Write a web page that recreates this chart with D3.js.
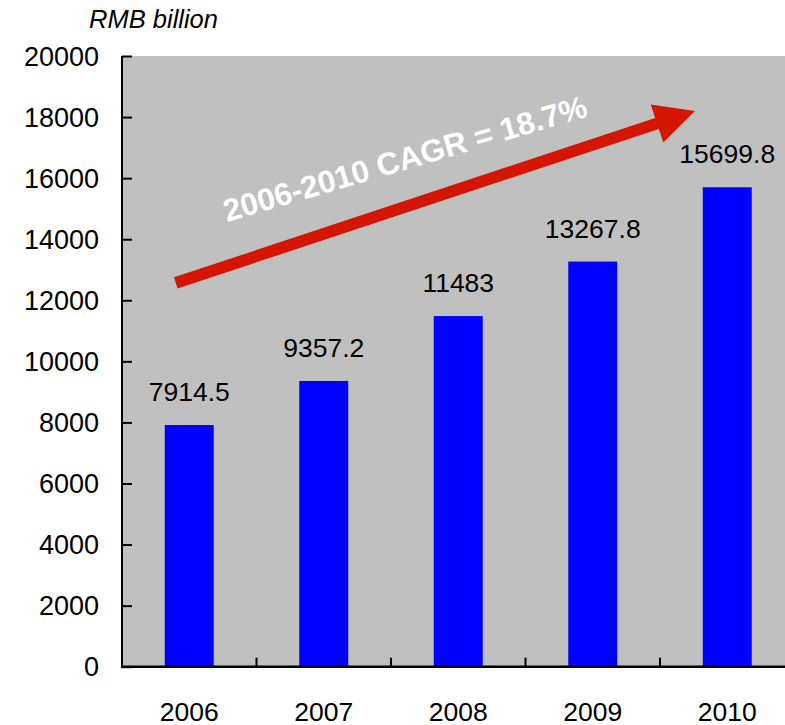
<!DOCTYPE html>
<html>
<head>
<meta charset="utf-8">
<script src="https://cdn.jsdelivr.net/npm/d3@7"></script>
<style>
  html, body { margin: 0; padding: 0; background: #ffffff; overflow: hidden; }
  svg { display: block; }
  text { font-family: "Liberation Sans", Arial, sans-serif; }
</style>
</head>
<body>
<svg id="chart" width="785" height="725"></svg>
<script>
// Annual values, RMB billion
const years = ["2006", "2007", "2008", "2009", "2010"];
const values = [7914.5, 9357.2, 11483, 13267.8, 15699.8];
const valueLabels = ["7914.5", "9357.2", "11483", "13267.8", "15699.8"];
const yTicks = [0, 2000, 4000, 6000, 8000, 10000, 12000, 14000, 16000, 18000, 20000];
const unitLabel = "RMB billion";
const growthLabel = "2006-2010 CAGR = 18.7%";
// Trend arrow end points: [category, fraction across its band, value]
const arrowFrom = ["2006", 0.40, 12570];
const arrowTo = ["2010", 0.26, 18200];

const svg = d3.select("#chart");
const plotLeft = 122, plotTop = 56, plotBottom = 666.7;
const step = 134.5;
const plotRight = plotLeft + step * years.length;

const band = d3.scaleBand().domain(years).range([plotLeft, plotRight]).padding(0);
const x = d3.scaleBand().domain(years).range([plotLeft, plotRight])
  .paddingInner(0.636).paddingOuter(0.318);
const y = d3.scaleLinear().domain([0, 20000]).range([plotBottom, plotTop]);

// plot background
svg.append("rect")
  .attr("x", plotLeft).attr("y", y(20000))
  .attr("width", plotRight - plotLeft).attr("height", y(0) - y(20000))
  .attr("fill", "#c0c0c0");

// bars
svg.selectAll("rect.bar").data(years).join("rect")
  .attr("class", "bar")
  .attr("x", d => x(d))
  .attr("width", x.bandwidth())
  .attr("y", (d, i) => y(values[i]))
  .attr("height", (d, i) => y(0) - y(values[i]))
  .attr("fill", "#0000ff");

// value labels
svg.selectAll("text.val").data(years).join("text")
  .attr("class", "val")
  .attr("x", d => x(d) + x.bandwidth() / 2)
  .attr("y", (d, i) => y(values[i]) - 24)
  .attr("text-anchor", "middle")
  .attr("font-size", 26.5)
  .attr("fill", "#000")
  .text((d, i) => valueLabels[i]);

// y axis: ticks point into the plot
const yAxis = d3.axisRight(y).tickValues(yTicks).tickSize(10).tickFormat("");
const gy = svg.append("g").attr("transform", `translate(${plotLeft},0)`).call(yAxis);
gy.select(".domain").attr("stroke", "#000").attr("stroke-width", 2)
  .attr("d", `M0,${y(20000)}V${y(0)}`);
gy.selectAll(".tick line").attr("stroke", "#000").attr("stroke-width", 2);

svg.selectAll("text.ytick").data(yTicks).join("text")
  .attr("class", "ytick")
  .attr("x", 99)
  .attr("y", d => y(d))
  .attr("dy", "0.36em")
  .attr("text-anchor", "end")
  .attr("font-size", 27)
  .attr("fill", "#000")
  .text(d => d);

// x axis: baseline with ticks between categories
svg.append("line")
  .attr("x1", plotLeft - 1).attr("x2", plotRight)
  .attr("y1", y(0)).attr("y2", y(0))
  .attr("stroke", "#000").attr("stroke-width", 2.5);
svg.selectAll("line.xtick").data(years.slice(1)).join("line")
  .attr("class", "xtick")
  .attr("x1", d => band(d)).attr("x2", d => band(d))
  .attr("y1", y(0)).attr("y2", y(0) - 9)
  .attr("stroke", "#000").attr("stroke-width", 2);

svg.selectAll("text.xlab").data(years).join("text")
  .attr("class", "xlab")
  .attr("x", d => band(d) + band.bandwidth() / 2)
  .attr("y", 721)
  .attr("text-anchor", "middle")
  .attr("font-size", 26.5)
  .attr("fill", "#000")
  .text(d => d);

// unit label
svg.append("text")
  .attr("x", 218).attr("y", 28)
  .attr("text-anchor", "end")
  .attr("font-size", 25.5)
  .attr("font-style", "italic")
  .attr("fill", "#000")
  .text(unitLabel);

// growth arrow
const ax0 = band(arrowFrom[0]) + arrowFrom[1] * band.bandwidth();
const ay0 = y(arrowFrom[2]);
const ax1 = band(arrowTo[0]) + arrowTo[1] * band.bandwidth();
const ay1 = y(arrowTo[2]);
const ang = Math.atan2(ay1 - ay0, ax1 - ax0);
const len = Math.hypot(ax1 - ax0, ay1 - ay0);
const headLen = 40, headHalf = 20, shaftHalf = 5.8;
const arrowPts = [
  [0, -shaftHalf], [len - headLen, -shaftHalf], [len - headLen, -headHalf],
  [len, 0], [len - headLen, headHalf], [len - headLen, shaftHalf], [0, shaftHalf]
];
svg.append("polygon")
  .attr("transform", `translate(${ax0},${ay0}) rotate(${ang * 180 / Math.PI})`)
  .attr("points", arrowPts.map(p => p.join(",")).join(" "))
  .attr("fill", "#d41600");

svg.append("text")
  .attr("transform", `translate(227,222) rotate(-16.3)`)
  .attr("font-size", 31.5)
  .attr("font-weight", "bold")
  .attr("fill", "#ffffff")
  .text(growthLabel);
</script>
</body>
</html>
